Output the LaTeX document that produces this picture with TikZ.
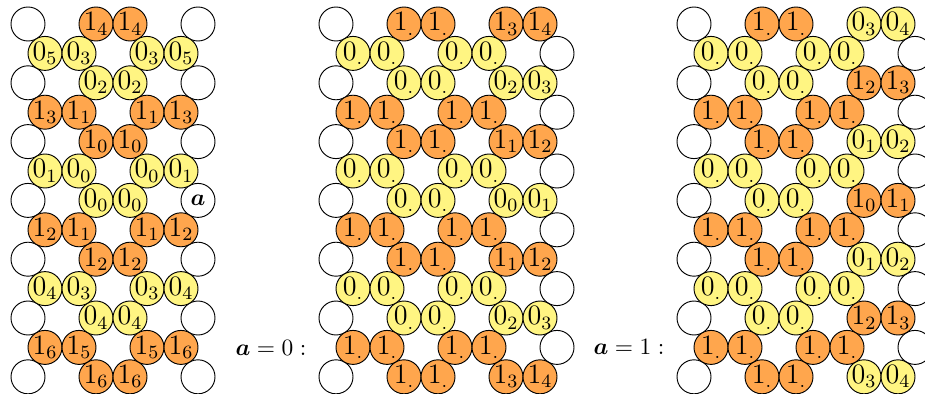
\documentclass[tikz,border=0pt]{standalone}
\usepackage{amsmath}

\definecolor{ball0}{RGB}{255,245,130}
\definecolor{ball1}{RGB}{255,166,77}

\begin{document}
\begin{tikzpicture}[x=0.015cm, y=-0.015cm,
  ball/.style={circle, draw, inner sep=0pt, minimum size=0.51cm, font=\large}]
  \useasboundingbox (0,0) rectangle (925,394);
  % left picture: the indexed lattice
  \foreach \r/\d/\i/\e in {0/1/4/{}, 2/0/2/{}, 4/1/0/{}, 6/0/0/{\normalsize$\boldsymbol{a}$}, 8/1/2/{}, 10/0/4/{}, 12/1/6/{}} {
    \node[ball] (p1-\r-0) at (28, {24+29.4*\r}) {};
    \foreach \c in {4,6}
      \node[ball, fill=ball\d] (p1-\r-\c) at ({28+17*\c}, {24+29.4*\r}) {$\d_{\i}$};
    \node[ball] (p1-\r-10) at (198, {24+29.4*\r}) {\e};
  }
  \foreach \r/\d/\i/\j in {1/0/5/3, 3/1/3/1, 5/0/1/0, 7/1/2/1, 9/0/4/3, 11/1/6/5} {
    \foreach \c/\k in {1/\i, 3/\j, 7/\j, 9/\i}
      \node[ball, fill=ball\d] (p1-\r-\c) at ({28+17*\c}, {24+29.4*\r}) {$\d_{\k}$};
  }
  % middle picture
  \node (eq0) at (271, 348) {$\boldsymbol{a}=0:$};
  \foreach \r/\d/\i/\j in {0/1/3/4, 2/0/2/3, 4/1/1/2, 6/0/0/1, 8/1/1/2, 10/0/2/3, 12/1/3/4} {
    \node[ball] (p2-\r-0) at (336, {24+29.4*\r}) {};
    \foreach \c in {4,6}
      \node[ball, fill=ball\d] (p2-\r-\c) at ({336+17*\c}, {24+29.4*\r}) {$\d_.$};
    \foreach \c/\k in {10/\i, 12/\j}
      \node[ball, fill=ball\d] (p2-\r-\c) at ({336+17*\c}, {24+29.4*\r}) {$\d_{\k}$};
  }
  \foreach \r/\d in {1/0, 3/1, 5/0, 7/1, 9/0, 11/1} {
    \foreach \c in {1,3,7,9}
      \node[ball, fill=ball\d] (p2-\r-\c) at ({336+17*\c}, {24+29.4*\r}) {$\d_.$};
    \node[ball] (p2-\r-13) at (557, {24+29.4*\r}) {};
  }
  % right picture
  \node (eq1) at (629, 347) {$\boldsymbol{a}=1:$};
  \foreach \r/\d/\e/\i/\j in {0/1/0/3/4, 2/0/1/2/3, 4/1/0/1/2, 6/0/1/0/1, 8/1/0/1/2, 10/0/1/2/3, 12/1/0/3/4} {
    \node[ball] (p3-\r-0) at (694, {24+29.4*\r}) {};
    \foreach \c in {4,6}
      \node[ball, fill=ball\d] (p3-\r-\c) at ({694+17*\c}, {24+29.4*\r}) {$\d_.$};
    \foreach \c/\k in {10/\i, 12/\j}
      \node[ball, fill=ball\e] (p3-\r-\c) at ({694+17*\c}, {24+29.4*\r}) {$\e_{\k}$};
  }
  \foreach \r/\d in {1/0, 3/1, 5/0, 7/1, 9/0, 11/1} {
    \foreach \c in {1,3,7,9}
      \node[ball, fill=ball\d] (p3-\r-\c) at ({694+17*\c}, {24+29.4*\r}) {$\d_.$};
    \node[ball] (p3-\r-13) at (915, {24+29.4*\r}) {};
  }
\end{tikzpicture}
\end{document}
